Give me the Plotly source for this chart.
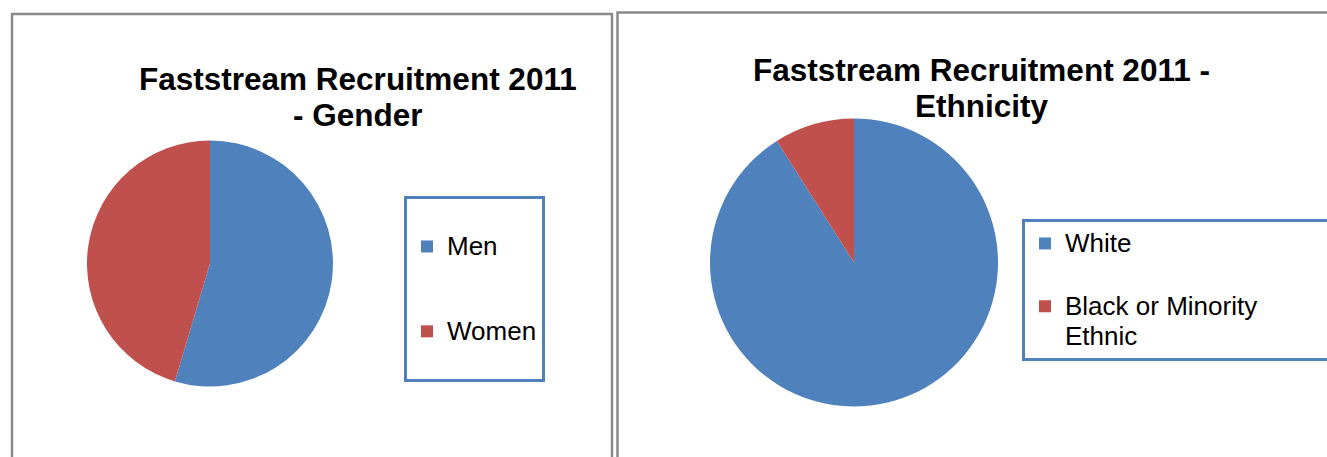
import plotly.graph_objects as go

W, H = 1327, 457

# ---- data ----
gender_categories = ["Men", "Women"]
gender_values = [54.6, 45.4]
ethnicity_categories = ["White", "Black or Minority Ethnic"]
ethnicity_values = [91, 9]

title_gender = ["Faststream Recruitment 2011", "- Gender"]
title_ethnicity = ["Faststream Recruitment 2011 -", "Ethnicity"]

BLUE = "#4F81BD"
RED = "#C0504D"
FONT = "Liberation Sans, Arial, sans-serif"


def px_x(x):
    return x / W


def px_y(y):
    return 1 - y / H


def big(s, size=26):
    return f"<span style='font-size:{size}px'>{s}</span>"


# legend display labels (spacing lines mimic the roomy Excel legend)
gender_legend = ["\u00a0<br>" + big(c) + "<br>\u00a0" for c in gender_categories]
eth_legend = [
    big("White") + "<br>\u00a0",
    big("Black or Minority") + "\u00a0" * 12 + "<br>" + big("Ethnic"),
]

fig = go.Figure()

fig.add_trace(go.Pie(
    labels=gender_legend,
    values=gender_values,
    customdata=gender_categories,
    hovertemplate="%{customdata}: %{percent}<extra></extra>",
    marker=dict(colors=[BLUE, RED], line=dict(width=0)),
    sort=False, direction="clockwise", rotation=0,
    textinfo="none",
    domain=dict(x=[px_x(87), px_x(333)], y=[px_y(387), px_y(140)]),
    legend="legend",
))

fig.add_trace(go.Pie(
    labels=eth_legend,
    values=ethnicity_values,
    customdata=ethnicity_categories,
    hovertemplate="%{customdata}: %{percent}<extra></extra>",
    marker=dict(colors=[BLUE, RED], line=dict(width=0)),
    sort=False, direction="clockwise", rotation=0,
    textinfo="none",
    domain=dict(x=[px_x(710), px_x(998)], y=[px_y(407), px_y(118)]),
    legend="legend2",
))

# panel borders
fig.add_shape(type="rect", xref="paper", yref="paper",
              x0=px_x(12), x1=px_x(612), y0=-0.2, y1=px_y(14),
              line=dict(color="#8a8a8a", width=2.5), layer="below")
fig.add_shape(type="rect", xref="paper", yref="paper",
              x0=px_x(617.5), x1=1.2, y0=-0.2, y1=px_y(12.5),
              line=dict(color="#8a8a8a", width=2.5), layer="below")

# titles
fig.add_annotation(
    text=big(title_gender[0], 31.5) + "<br>" + big(title_gender[1], 31.5),
    xref="paper", yref="paper", x=px_x(358), y=px_y(97),
    xanchor="center", yanchor="middle", showarrow=False,
    font=dict(family=FONT, size=28, color="black", weight="bold"),
)
fig.add_annotation(
    text=big(title_ethnicity[0], 31.5) + "<br>" + big(title_ethnicity[1], 31.5),
    xref="paper", yref="paper", x=px_x(981), y=px_y(88),
    xanchor="center", yanchor="middle", showarrow=False,
    font=dict(family=FONT, size=28, color="black", weight="bold"),
)

fig.update_layout(
    width=W, height=H,
    margin=dict(l=0, r=0, t=0, b=0, autoexpand=False),
    paper_bgcolor="white", plot_bgcolor="white",
    showlegend=True,
    legend=dict(
        x=px_x(404), y=px_y(196), xanchor="left", yanchor="top",
        bordercolor=BLUE, borderwidth=3, bgcolor="white",
        font=dict(family=FONT, size=21, color="black"),
        valign="middle",
    ),
    legend2=dict(
        x=px_x(1022), y=px_y(219), xanchor="left", yanchor="top",
        bordercolor=BLUE, borderwidth=3, bgcolor="white",
        font=dict(family=FONT, size=23, color="black"),
        valign="top",
    ),
)

fig.write_html(
    "out.html",
    config={"displayModeBar": False},
    post_script="document.body.style.margin='0';document.body.style.overflow='hidden';",
)
